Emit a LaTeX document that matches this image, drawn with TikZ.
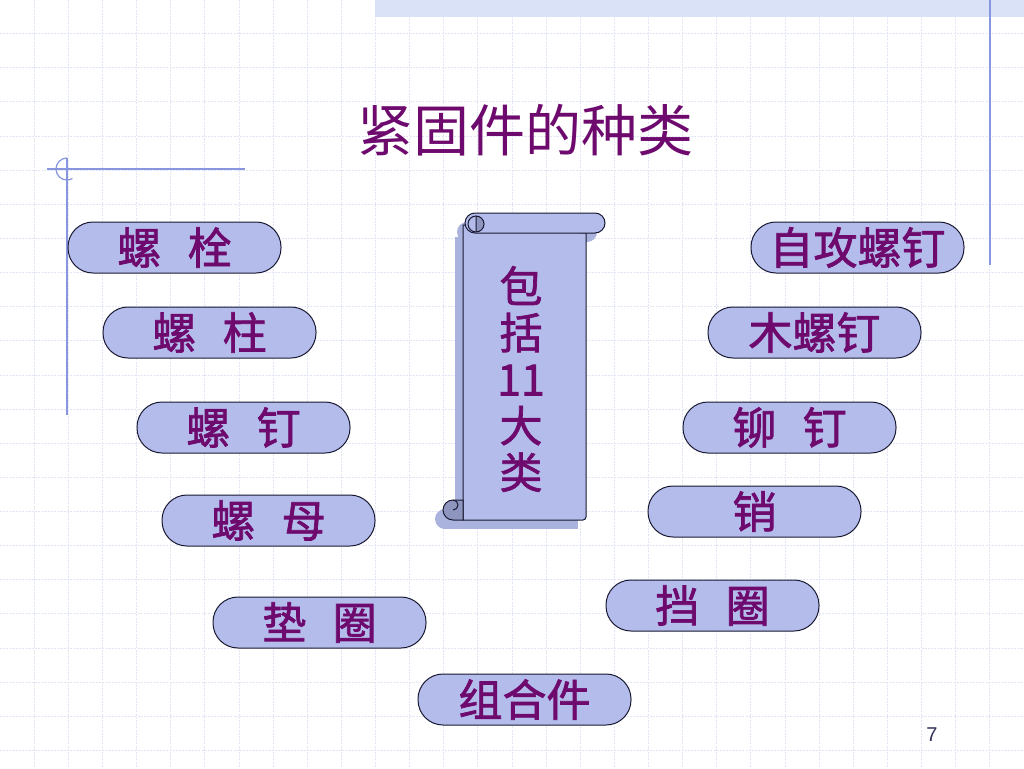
\documentclass[tikz,border=0pt]{standalone}
\usepackage{fontspec}
\newfontfamily\cjk{Noto Sans CJK SC}
\newfontfamily\cjkb[FakeBold=1.6]{Noto Sans CJK SC}
\setsansfont{Liberation Sans}
\definecolor{pillfill}{RGB}{180,188,235}
\definecolor{txt}{RGB}{110,10,110}
\definecolor{gridc}{RGB}{226,229,246}
\definecolor{deco}{RGB}{135,150,222}
\definecolor{band}{RGB}{218,226,247}
\definecolor{curlc}{RGB}{142,150,192}
\definecolor{shadowc}{RGB}{170,178,222}
\definecolor{edge}{RGB}{25,25,50}
\definecolor{pnum}{RGB}{50,50,90}
\tikzset{
  gridline/.style={draw=gridc, dash pattern=on 2pt off 1.2pt, line width=0.8pt},
  decoline/.style={draw=deco, line width=1.2pt},
  pill/.style={draw=edge, line width=1pt, fill=pillfill, rounded corners=25pt,
    minimum width=213pt, minimum height=51pt, inner sep=0pt, text=txt,
    font=\cjkb\fontsize{44}{46}\selectfont},
  scrollpart/.style={draw=edge, line width=1pt, fill=pillfill},
  curlpart/.style={draw=edge, line width=1pt, fill=curlc},
  shadowpart/.style={fill=shadowc},
}
\begin{document}
\begin{tikzpicture}[x=1pt,y=-1pt]
\useasboundingbox (0,0) rectangle (1024,768);
\fill[white] (0,0) rectangle (1024,768);
% grid
\foreach \i in {1,...,29} \draw[gridline] ({34.13*\i},0) -- ({34.13*\i},768);
\foreach \j in {1,...,22} \draw[gridline] (0,{34.13*\j-0.5}) -- (1024,{34.13*\j-0.5});
% top band
\fill[band] (375,0) rectangle (1024,17);
\draw[decoline] (990,0) -- (990,265);
% left decoration
\draw[decoline] (47,169) -- (245,169);
\draw[decoline] (67,158) -- (67,415);
\draw[decoline] (67,158) arc[start angle=-90, end angle=-300, radius=11];
% title
\node[text=txt, font=\cjk\fontsize{56}{60}\selectfont] (title) at (525,130) {紧固件的种类};
% scroll shadow
\begin{scope}[shift={(-8,9)}]
  \fill[shadowpart] (463,228) rectangle (586,520);
  \fill[shadowpart, rounded corners=10pt] (465,213) rectangle (605,233);
  \fill[shadowpart] (453,510) circle[radius=10];
  \fill[shadowpart] (453,500) rectangle (470,520);
\end{scope}
% scroll
\draw[scrollpart] (463,225) -- (463,520) -- (583,520) arc[start angle=90, end angle=0, radius=3] -- (586,233) -- cycle;
\draw[scrollpart, rounded corners=10pt] (465,213) rectangle (605,233);
\draw[curlpart] (476,216) arc[start angle=-90, end angle=90, radius=8] -- cycle;
\draw[edge, line width=1pt] (476,216) arc[start angle=-90, end angle=-270, radius=8];
\draw[curlpart] (453,500) arc[start angle=-90, end angle=-270, radius=10] -- (463,520) -- (463,500) -- cycle;
\draw[edge, line width=1pt] (453,500) arc[start angle=-90, end angle=90, radius=5];
\node[text=txt, font=\cjkb\fontsize{43}{46.5}\selectfont, align=center, inner sep=0pt] (scrolltext) at (521,379) {包\\括\\11\\大\\类};
% pills left
\node[pill] (p1) at (174.5,247.5) {螺\hspace{0.6em}栓};
\node[pill] (p2) at (209.5,332.5) {螺\hspace{0.6em}柱};
\node[pill] (p3) at (243.5,427.5) {螺\hspace{0.6em}钉};
\node[pill] (p4) at (268.5,520.5) {螺\hspace{0.6em}母};
\node[pill] (p5) at (319.5,622.5) {垫\hspace{0.6em}圈};
\node[pill] (p6) at (524.5,699.5) {组合件};
% pills right
\node[pill] (p7) at (857.5,247.5) {自攻螺钉};
\node[pill] (p8) at (814.5,332.5) {木螺钉};
\node[pill] (p9) at (789.5,427.5) {铆\hspace{0.6em}钉};
\node[pill] (p10) at (754.5,511.5) {销};
\node[pill] (p11) at (712.5,605.5) {挡\hspace{0.6em}圈};
% page number
\node[text=pnum, font=\sffamily\fontsize{20}{22}\selectfont] (pn) at (932,735) {7};
\end{tikzpicture}
\end{document}
